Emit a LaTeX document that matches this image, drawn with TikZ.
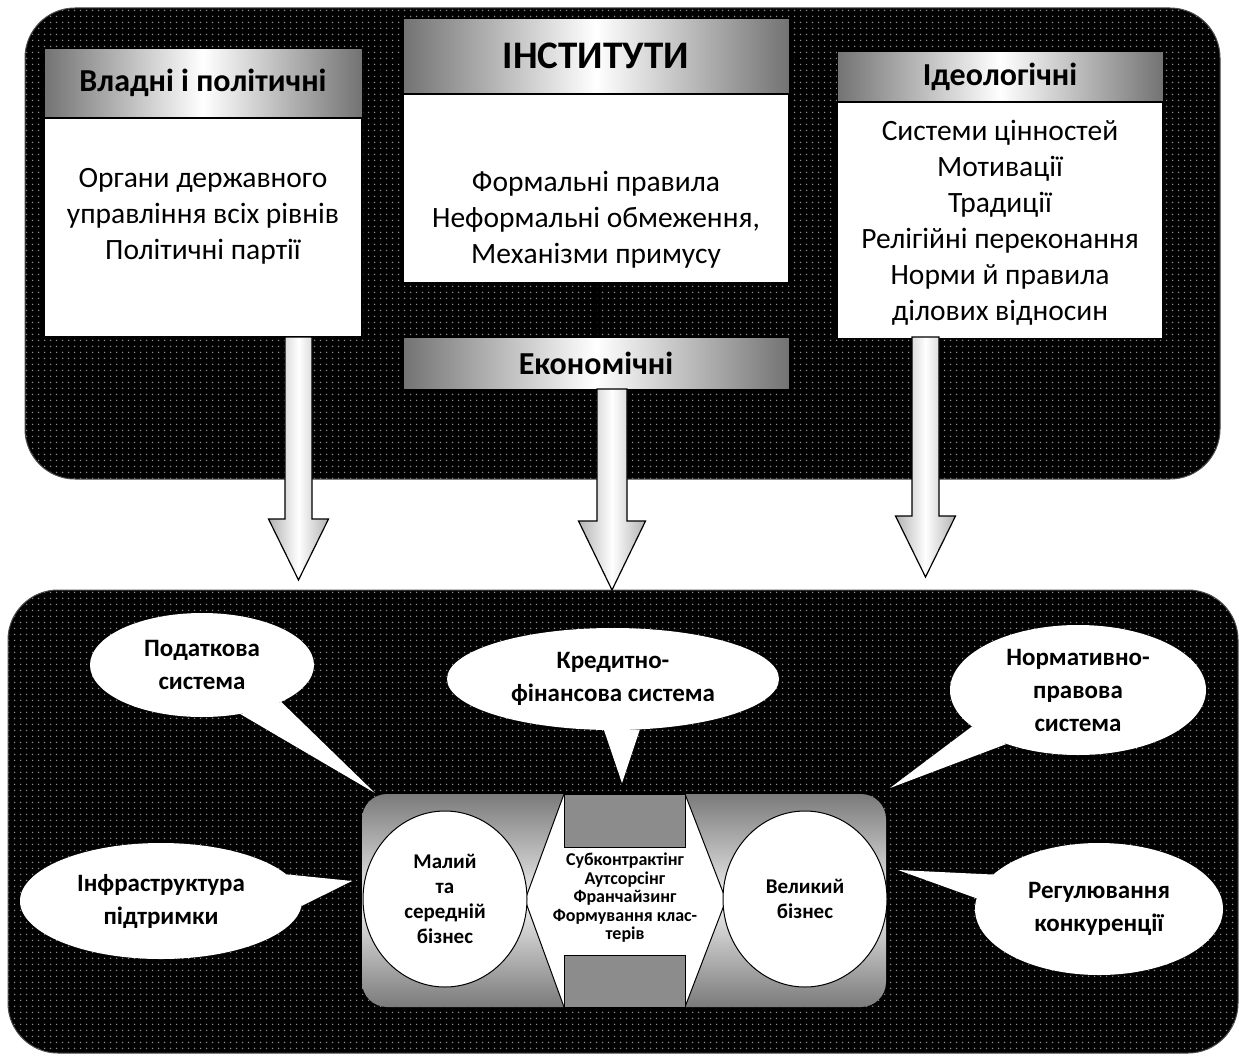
\documentclass[tikz,border=0pt]{standalone}
\usepackage{fontspec}
\setmainfont{Carlito}
\usepackage{xcolor}
\definecolor{Dot Gray}{HTML}{8C8C8C}
\colorlet{cDot}{Dot Gray}
\usepackage{tikz}
\usetikzlibrary{calc, arrows.meta, positioning, shapes.geometric, patterns.meta}
\tikzdeclarepattern{
	name=dotgrid,
	type=uncolored,
	bounding box={(0pt,0pt) and (6pt,6pt)},
	tile size={(6pt,6pt)},
	code={\fill (3pt,3pt) circle[radius=0.9pt];}
}
\tikzset{
	>={Stealth},
	panel/.style={
		draw=gray!60!black,
		line width=1pt,
		rounded corners=50pt,
		preaction={fill=black},
		pattern=dotgrid,
		pattern color=cDot
	},
	headbox/.style={
		draw=black,
		line width=1pt,
		left color=black!55,
		right color=black!55,
		middle color=white,
		inner sep=0pt,
		font=\bfseries\fontsize{32}{36}\selectfont
	},
	bodybox/.style={
		draw=black,
		line width=1.5pt,
		fill=white,
		inner sep=0pt
	},
	bodytext/.style={
		align=center,
		inner sep=0pt,
		font=\fontsize{29.5}{36}\selectfont
	},
	smallarrow/.style={
		->,
		draw=black,
		line width=1pt
	},
	bigarrow/.style={
		draw=black,
		line width=1.2pt,
		left color=gray!60,
		right color=gray!60,
		middle color=white
	},
	callout/.style={
		ellipse,
		fill=white,
		inner sep=0pt,
		align=center,
		font=\bfseries\fontsize{25}{33}\selectfont
	},
	bizbox/.style={
		rounded corners=25pt,
		top color=black!52,
		bottom color=black!52,
		middle color=gray!12,
		inner sep=0pt
	},
	linkshape/.style={
		draw=black,
		line width=1pt,
		fill=white
	},
	graybar/.style={
		draw=black,
		line width=1pt,
		fill=black!45
	},
	bizcircle/.style={
		ellipse,
		draw=black,
		line width=1pt,
		fill=white,
		minimum width=164pt,
		minimum height=176pt,
		inner sep=0pt,
		align=center,
		font=\bfseries\fontsize{21}{25}\selectfont
	},
	linktext/.style={
		align=center,
		inner sep=0pt,
		font=\bfseries\fontsize{18}{18.5}\selectfont
	}
}
% centre x, top y, head y, tip y, half shaft, half head
\newcommand{\blockarrow}[6]{%
	\draw[bigarrow] (#1-#5,#2) -- (#1-#5,#3) -- (#1-#6,#3) -- (#1,#4)
		-- (#1+#6,#3) -- (#1+#5,#3) -- (#1+#5,#2) -- cycle;}

\begin{document}
\begin{tikzpicture}[x=1pt, y=-1pt]
	\useasboundingbox (0,0) rectangle (1239,1057);
	% the two dotted panels
	\node[panel, minimum width=1195pt, minimum height=471pt] (toppanel) at (622.5,243.5) {};
	\node[panel, minimum width=1230pt, minimum height=463pt] (botpanel) at (623,821.5) {};

	% institutions
	\node[headbox, minimum width=318pt, minimum height=68pt] (powerhead) at (203,83) {Владні і політичні};
	\node[bodybox, minimum width=318pt, minimum height=218pt, below=0pt of powerhead] (powerbody) {};
	\node[headbox, minimum width=386pt, minimum height=74pt, font=\bfseries\fontsize{39}{42}\selectfont] (insthead) at (596,56) {ІНСТИТУТИ};
	\node[bodybox, minimum width=386pt, minimum height=188pt, below=0pt of insthead] (instbody) {};
	\node[headbox, minimum width=386pt, minimum height=52pt] (econhead) at (596,363) {Економічні};
	\node[headbox, minimum width=326pt, minimum height=49pt] (ideohead) at (1000,76.5) {Ідеологічні};
	\node[bodybox, minimum width=326pt, minimum height=236pt, below=0pt of ideohead] (ideobody) {};

	\node[bodytext] (powertext) at (203,216) {Органи державного\\управління всіх рівнів\\Політичні партії};
	\node[bodytext] (insttext) at (596,220) {Формальні правила\\Неформальні обмеження,\\Механізми примусу};
	\node[bodytext] (ideotext) at (1000,223) {Системи цінностей\\Мотивації\\Традиції\\Релігійні переконання\\Норми й правила\\ділових відносин};

	\draw[smallarrow] (insthead.west) -- (powerhead.east);
	\draw[smallarrow] (insthead.east) -- (ideohead.west);
	\draw[smallarrow] (instbody.south) -- (econhead.north);

	% block arrows down to the business panel
	\blockarrow{298.5}{337}{519}{580}{13.5}{30}
	\blockarrow{612}{389}{521}{590}{15}{33.5}
	\blockarrow{925.5}{337}{516}{577}{13.5}{30}

	% business core
	\node[bizbox, minimum width=524pt, minimum height=213pt] (biz) at (624,900.5) {};
	\draw[linkshape] (525,900) -- (564,794) -- (685,794) -- (726,900) -- (685,1007) -- (564,1007) -- cycle;
	\draw[graybar] (564,794) rectangle (685,847);
	\draw[graybar] (564,955) rectangle (685,1007);
	\node[bizcircle] (smallbiz) at (445,899) {Малий\\та\\середній\\бізнес};
	\node[bizcircle] (bigbiz) at (805,899) {Великий\\бізнес};
	\node[linktext] (links) at (625,898) {Субконтрактінг\\Аутсорсінг\\Франчайзинг\\Формування клас-\\терів};

	% callouts
	\node[callout, minimum width=224pt, minimum height=104pt] (tax) at (202,665) {Податкова\\система};
	\coordinate (taxtip) at (375,793);
	\fill[white] (tax.-25) -- (taxtip) -- (tax.-52) -- cycle;
	\node[callout, minimum width=332pt, minimum height=102pt] (credit) at (613,679) {Кредитно-\\фінансова система};
	\coordinate (credittip) at (622,783);
	\fill[white] (credit.-100) -- (credittip) -- (credit.-62) -- cycle;
	\node[callout, minimum width=256pt, minimum height=130pt] (norm) at (1078,690) {Нормативно-\\правова\\система};
	\coordinate (normtip) at (890,788);
	\fill[white] (norm.-161) -- (normtip) -- (norm.-143) -- cycle;
	\node[callout, minimum width=282pt, minimum height=116pt] (infra) at (161,901) {Інфраструктура\\підтримки};
	\coordinate (infratip) at (352,881);
	\fill[white] (infra.12) -- (infratip) -- (infra.-2) -- cycle;
	\node[callout, minimum width=248pt, minimum height=132pt] (compet) at (1099,909) {Регулювання\\конкуренції};
	\coordinate (compettip) at (898,870);
	\fill[white] (compet.162) -- (compettip) -- (compet.175) -- cycle;
\end{tikzpicture}
\end{document}
